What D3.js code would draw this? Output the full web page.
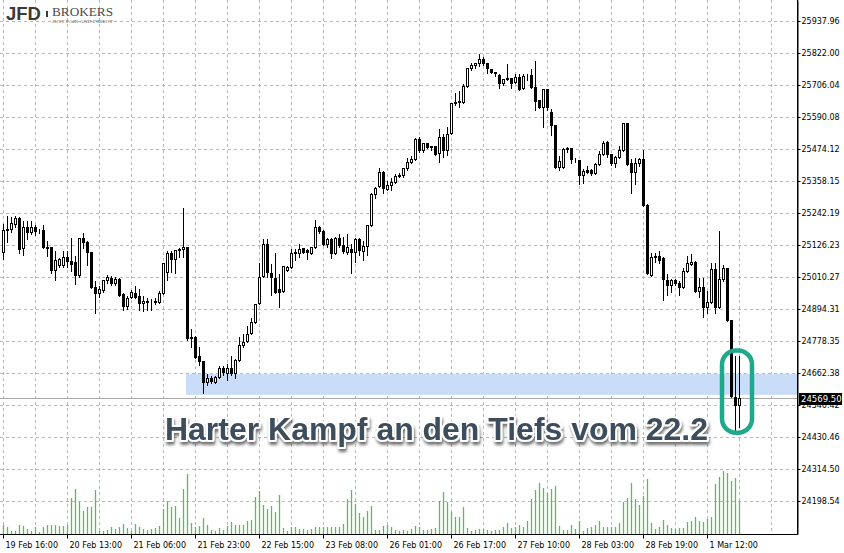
<!DOCTYPE html>
<html><head><meta charset="utf-8">
<script src="https://cdn.jsdelivr.net/npm/d3@7"></script>
<style>
html,body{margin:0;padding:0;background:#fff;}
svg{display:block;}
</style></head>
<body>
<svg id="c" width="844" height="553"></svg>
<script>
// ---------- DATA (DAX H1, 19 Feb 16:00 – 1 Mar) ----------
const open = [25100,25183,25183,25201,25223,25114,25190,25172,25190,25176,25180,25118,25118,25035,25053,25053,25082,25067,25063,25016,
25150,25136,25100,24973,24951,24962,24998,25005,24987,25002,24947,24904,24937,24951,24940,24915,24922,24918,24922,24918,
24951,25027,25096,25074,25107,25111,25118,24788,24792,24723,24705,24629,24643,24629,24647,24679,24661,24679,24661,24708,
24763,24777,24806,24846,24915,25013,25129,25024,25005,24966,24958,25035,25045,25096,25096,25114,25107,25096,25118,25190,
25176,25129,25147,25096,25150,25125,25100,25110,25100,25147,25103,25122,25198,25310,25339,25390,25328,25343,25353,25375,
25379,25404,25426,25437,25509,25469,25495,25480,25484,25458,25516,25469,25531,25643,25647,25643,25701,25767,25777,25785,
25799,25785,25763,25752,25741,25712,25730,25730,25716,25734,25694,25738,25741,25698,25651,25625,25690,25607,25560,25408,
25408,25473,25477,25437,25433,25379,25397,25397,25386,25419,25455,25498,25455,25422,25444,25469,25567,25422,25390,25422,
25437,25270,25016,25082,25085,25078,24998,24980,24998,24987,24973,25031,25056,25063,24958,24973,24900,24919,25038,24900,
25002,25042,24853,24574,24545];
const high = [25205,25234,25230,25234,25230,25216,25216,25216,25201,25187,25201,25143,25120,25107,25082,25107,25107,25154,25089,25154,
25172,25143,25102,24998,24980,24999,25020,25016,25013,25009,24955,24944,24966,24980,24969,24944,24937,24933,24937,24962,
25063,25107,25107,25111,25118,25263,25122,24824,24799,24759,24708,24661,24654,24654,24690,24690,24698,24726,24716,24795,
24806,24835,24864,24915,25063,25150,25150,25060,25100,25024,25053,25053,25114,25114,25132,25118,25114,25122,25219,25198,
25183,25154,25154,25158,25169,25158,25169,25132,25154,25154,25143,25200,25317,25339,25408,25397,25361,25372,25386,25390,
25408,25444,25451,25516,25520,25498,25498,25488,25488,25549,25531,25556,25643,25680,25687,25712,25770,25788,25785,25821,
25810,25788,25767,25756,25748,25730,25785,25734,25748,25748,25748,25748,25767,25796,25652,25694,25694,25622,25562,25451,
25480,25484,25480,25444,25437,25404,25415,25404,25426,25469,25506,25506,25458,25451,25488,25571,25570,25440,25444,25444,
25473,25277,25100,25100,25107,25085,25024,25005,25005,24998,25045,25089,25096,25071,25009,25009,24962,25063,25063,25180,
25056,25045,24855,24726,24726];
const low = [25074,25136,25172,25190,25096,25089,25147,25165,25161,25169,25114,25085,25024,24998,25045,25045,25045,25031,24984,25009,
25114,25053,24970,24879,24937,24955,24987,24980,24980,24940,24890,24893,24933,24933,24890,24886,24890,24890,24911,24915,
24949,24998,25027,25024,25082,25082,24781,24755,24716,24690,24589,24618,24625,24625,24643,24654,24636,24654,24643,24705,
24755,24774,24803,24842,24911,25009,25009,24944,24951,24900,24955,25031,25042,25071,25082,25096,25074,25093,25116,25169,
25125,25118,25078,25093,25118,25096,25093,25024,25063,25089,25071,25089,25194,25295,25335,25314,25324,25324,25350,25372,
25372,25397,25422,25433,25462,25462,25477,25469,25451,25426,25444,25451,25527,25632,25625,25640,25698,25759,25767,25774,
25777,25748,25748,25738,25694,25705,25723,25694,25712,25687,25690,25723,25694,25614,25622,25553,25614,25524,25404,25397,
25404,25462,25422,25426,25346,25350,25386,25379,25384,25415,25451,25444,25415,25408,25440,25466,25415,25314,25346,25411,
25266,25020,25013,25063,25060,24926,24944,24955,24980,24944,24970,25027,25053,24955,24937,24864,24879,24915,24879,24897,
24995,24850,24574,24444,24466];
const close = [25180,25180,25205,25223,25111,25190,25172,25190,25176,25175,25118,25116,25035,25071,25074,25082,25067,25056,25016,25150,
25136,25100,24973,24951,24966,24998,25009,24987,25002,24944,24904,24933,24955,24937,24915,24922,24918,24920,24918,24951,
25060,25096,25074,25107,25110,25118,24788,24792,24719,24705,24629,24643,24632,24647,24679,24665,24679,24661,24708,24763,
24774,24803,24846,24911,25009,25129,25027,25009,24955,24955,25049,25045,25096,25100,25111,25100,25100,25118,25190,25176,
25129,25147,25096,25150,25125,25103,25118,25100,25147,25107,25122,25198,25310,25332,25390,25332,25343,25353,25375,25379,
25404,25426,25437,25509,25469,25495,25480,25484,25455,25516,25469,25527,25640,25640,25643,25701,25767,25777,25785,25799,
25785,25767,25752,25750,25712,25727,25727,25712,25734,25690,25738,25736,25698,25647,25625,25690,25625,25560,25408,25430,
25473,25475,25437,25435,25379,25393,25390,25386,25419,25455,25495,25455,25422,25444,25469,25567,25419,25390,25422,25437,
25270,25024,25082,25085,25071,25002,24980,24998,24987,24973,25031,25060,25063,24958,24973,24900,24919,25038,24900,25002,
25042,24853,24578,24545,24569.5];
const volume = [930,670,270,270,930,830,500,270,730,170,730,900,930,930,770,770,930,3600,4500,3160,
2260,2660,2730,4400,330,330,400,730,500,670,1000,600,270,1000,670,500,400,500,600,830,
2500,3300,2700,2800,1600,4500,6000,1070,670,830,1600,930,400,270,600,400,830,1170,930,930,
930,1270,1400,3660,4300,2900,2500,2800,2160,3900,600,270,730,670,500,500,400,500,670,730,
670,670,730,670,730,1000,3500,4400,3000,2100,1700,2300,2800,400,400,830,930,730,400,270,
400,270,500,830,670,400,400,500,600,3300,4160,3160,2160,1660,1700,2660,600,270,400,500,
500,400,270,400,400,670,1100,600,730,930,730,1330,3500,4400,5100,4600,4060,4500,4800,830,
400,400,930,500,1270,330,600,730,930,1270,730,670,670,730,1070,3160,3560,5060,3500,2900,
3800,5500,1070,500,670,1400,930,600,500,600,600,1170,1270,1660,1270,1170,1500,1700,5000,5700,
6260,6100,5260,5600,3300];

const timeLabels = ["19 Feb 16:00","20 Feb 13:00","21 Feb 06:00","21 Feb 23:00","22 Feb 15:00","23 Feb 08:00",
  "26 Feb 01:00","26 Feb 17:00","27 Feb 10:00","28 Feb 03:00","28 Feb 19:00","1 Mar 12:00"];
const timeLabelBars = [0,16,32,48,64,80,96,112,128,144,160,176];
const priceTicks = [25937.96,25822.00,25706.04,25590.08,25474.12,25358.15,25242.19,25126.23,25010.27,
  24894.31,24778.35,24662.38,24546.42,24430.46,24314.50,24198.54];
const lastPrice = 24569.50;
const zoneHigh = 24658, zoneLow = 24582, zoneStartBar = 45.75;
const highlightBar = 183.5, highlightHigh = 24743, highlightLow = 24445;
const annotation = "Harter Kampf an den Tiefs vom 22.2";

// ---------- LAYOUT ----------
const plotR = 797, plotB = 534;
const svg = d3.select("#c");
const x = d3.scaleLinear().domain([-0.75, 198.5]).range([0, plotR]);
const y = d3.scaleLinear().domain([24077.8, 26013]).range([plotB, 0]);
const vol = d3.scaleLinear().domain([0, 10000]).range([0, 100]);
const N = open.length;
const px = v => Math.round(v) + 0.5;

const defs = svg.append("defs");
const f = defs.append("filter").attr("id","sh").attr("x","-5%").attr("y","-20%").attr("width","110%").attr("height","160%");
f.append("feDropShadow").attr("dx",1).attr("dy",3).attr("stdDeviation",1.6).attr("flood-color","#000").attr("flood-opacity",0.55);

// grid
const grid = svg.append("g").attr("stroke","#b8b8b8").attr("stroke-dasharray","3,3").attr("stroke-width",1);
grid.selectAll("line.h").data(priceTicks).join("line")
  .attr("x1",0).attr("x2",plotR).attr("y1",d=>px(y(d))).attr("y2",d=>px(y(d)));
grid.selectAll("line.v").data(d3.range(0,193,8)).join("line")
  .attr("y1",0).attr("y2",plotB).attr("x1",d=>px(x(d))).attr("x2",d=>px(x(d)));

// support zone
svg.append("rect").attr("x",x(zoneStartBar)).attr("y",y(zoneHigh))
  .attr("width",plotR - x(zoneStartBar)).attr("height",y(zoneLow)-y(zoneHigh))
  .attr("fill","#c9ddf8");

// volume
svg.append("g").selectAll("line").data(volume).join("line")
  .attr("x1",(d,i)=>Math.round(x(i))+0.5).attr("x2",(d,i)=>Math.round(x(i))+0.5)
  .attr("y1",plotB).attr("y2",d=>plotB - Math.round(vol(d)))
  .attr("stroke","#5db862").attr("stroke-width",1.3);

// last price line
svg.append("line").attr("x1",0).attr("x2",plotR).attr("y1",px(y(lastPrice))).attr("y2",px(y(lastPrice)))
  .attr("stroke","#a8a8a8").attr("stroke-width",1);

// candles
const cg = svg.append("g").attr("shape-rendering","crispEdges");
d3.range(N).forEach(i=>{
  const cx = Math.round(x(i)) + 0.5;
  cg.append("line").attr("x1",cx).attr("x2",cx)
    .attr("y1",px(y(high[i]))).attr("y2",px(y(low[i]))).attr("stroke","#000");
  const t = px(y(Math.max(open[i],close[i]))), b = px(y(Math.min(open[i],close[i])));
  const up = close[i] > open[i];
  cg.append("rect").attr("x",cx-1).attr("width",2).attr("y",t).attr("height",Math.max(0,b-t))
    .attr("fill", up ? "#fff" : "#000").attr("stroke","#000").attr("stroke-width",1);
});

// axes
const ya = svg.append("g").attr("transform",`translate(${plotR+0.5},0)`)
  .call(d3.axisRight(y).tickValues(priceTicks).tickFormat(d3.format(".2f")).tickSize(3).tickSizeOuter(0).tickPadding(1));
ya.select(".domain").attr("stroke","#000");
ya.selectAll(".tick line").attr("stroke","#000");
ya.selectAll("text").attr("font-family","DejaVu Sans").attr("font-size","8px").attr("fill","#000");
ya.selectAll(".tick").attr("transform",d=>`translate(0,${px(y(d))})`);

const xa = svg.append("g").attr("transform",`translate(0,${plotB+0.5})`)
  .call(d3.axisBottom(x).tickValues(timeLabelBars).tickFormat((d,i)=>timeLabels[i]).tickSize(4).tickSizeOuter(0));
xa.select(".domain").attr("stroke","#000").attr("d",`M0,0H${plotR}`);
xa.selectAll(".tick").attr("transform",d=>`translate(${px(x(d))},0)`);
xa.selectAll(".tick line").attr("stroke","#000");
xa.selectAll("text").attr("font-family","DejaVu Sans").attr("font-size","8px").attr("fill","#000")
  .attr("text-anchor","start").attr("x",2).attr("dy",null).attr("y",13);
svg.append("line").attr("x1",plotR+0.5).attr("x2",plotR+0.5).attr("y1",0).attr("y2",plotB+1).attr("stroke","#000");

// last price label
const ly = y(lastPrice);
svg.append("rect").attr("x",799).attr("y",Math.round(ly)-5).attr("width",43).attr("height",12).attr("fill","#000");
svg.append("text").attr("x",801).attr("y",Math.round(ly)+4).text(d3.format(".2f")(lastPrice))
  .attr("font-family","DejaVu Sans").attr("font-size","8.5px").attr("fill","#fff");

// highlight box
svg.append("rect").attr("x",x(highlightBar)-15).attr("y",y(highlightHigh)).attr("width",30)
  .attr("height",y(highlightLow)-y(highlightHigh)).attr("rx",14).attr("ry",14)
  .attr("fill","none").attr("stroke","#1ea98c").attr("stroke-width",4.5);

// annotation
svg.append("text").attr("x",165).attr("y",440).text(annotation)
  .attr("font-family","Liberation Sans, Arial, sans-serif").attr("font-weight","bold").attr("font-size","32px")
  .attr("textLength",543).attr("lengthAdjust","spacingAndGlyphs")
  .attr("fill","#3e4d5b").attr("stroke","#fff").attr("stroke-width",4).attr("stroke-linejoin","round")
  .attr("paint-order","stroke").attr("filter","url(#sh)");

// logo
const lg = svg.append("g");
lg.append("text").attr("x",6).attr("y",19.5).text("JFD").attr("font-family","Liberation Sans").attr("font-weight","bold")
  .attr("font-size","18.5px").attr("fill","#3a3a3a").attr("textLength",35).attr("lengthAdjust","spacingAndGlyphs");
lg.append("rect").attr("x",46).attr("y",11).attr("width",2).attr("height",6).attr("fill","#3a3a3a");
lg.append("text").attr("x",52).attr("y",16).text("BROKERS").attr("font-family","Liberation Serif")
  .attr("font-size","13px").attr("fill","#4a4a4a").attr("textLength",61).attr("lengthAdjust","spacingAndGlyphs");
lg.append("text").attr("x",52).attr("y",22.5).text("JUST FAIR AND DIRECT").attr("font-family","Liberation Serif")
  .attr("font-size","4px").attr("fill","#666").attr("textLength",61).attr("lengthAdjust","spacingAndGlyphs");
</script>
</body></html>
